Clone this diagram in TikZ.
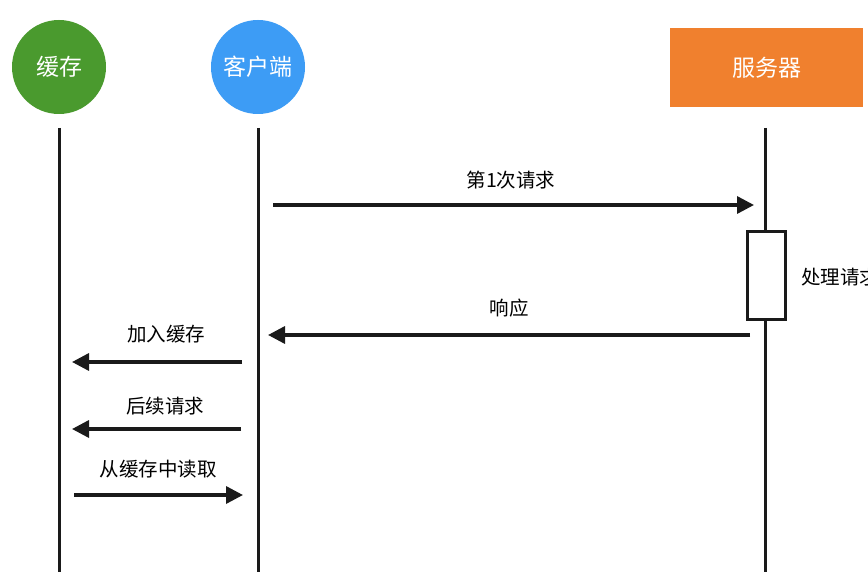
\documentclass[tikz,border=0pt]{standalone}
\usepackage{fontspec}
\newfontfamily\cjk{Noto Sans CJK SC}
\usetikzlibrary{arrows.meta}
\definecolor{cachegreen}{HTML}{4A9A2E}
\definecolor{clientblue}{HTML}{3D9CF5}
\definecolor{serverorange}{HTML}{F0802E}
\definecolor{lineblack}{HTML}{1A1A1A}
\begin{document}
\begin{tikzpicture}[x=1pt,y=-1pt,
  actor/.style={circle,minimum size=94pt,inner sep=0pt,text=white,font=\cjk\fontsize{23}{27}\selectfont},
  life/.style={draw=lineblack,line width=3pt},
  msg/.style={draw=lineblack,line width=3.4pt,-{Triangle[length=17pt,width=17pt]}},
  actbox/.style={draw=lineblack,line width=3pt,fill=white,minimum width=38pt,minimum height=87pt,inner sep=0pt},
  lbl/.style={font=\cjk\fontsize{19.5}{23}\selectfont,text=black,inner sep=0pt}]
\useasboundingbox (0,0) rectangle (868,588);
\fill[white] (0,0) rectangle (868,588);
% actors
\node[actor,fill=cachegreen] (cache) at (59,67) {缓存};
\node[actor,fill=clientblue] (client) at (258,67) {客户端};
\node[fill=serverorange,minimum width=193pt,minimum height=79pt,inner sep=0pt,text=white,font=\cjk\fontsize{23}{27}\selectfont] (server) at (766.5,67.5) {服务器};
% lifeline coordinates
\coordinate (c0) at (59,128); \coordinate (c1) at (59,572);
\coordinate (k0) at (258,128); \coordinate (k1) at (258,572);
\coordinate (s0) at (765,128); \coordinate (s1) at (765,572);
% activation
\node[actbox] (act) at (766.5,275.5) {};
\draw[life] (c0) -- (c1);
\draw[life] (k0) -- (k1);
\draw[life] (s0) -- (s1);
\node[actbox] at (act) {};
\node[lbl,anchor=west] (proc) at (801,277) {处理请求};
% message coordinates
\coordinate (m1a) at (273,205); \coordinate (m1b) at (754,205);
\coordinate (m2a) at (750,335); \coordinate (m2b) at (268,335);
\coordinate (m3a) at (242,362); \coordinate (m3b) at (72,362);
\coordinate (m4a) at (241,429); \coordinate (m4b) at (72,429);
\coordinate (m5a) at (74,495); \coordinate (m5b) at (243,495);
\draw[msg] (m1a) -- (m1b);
\draw[msg] (m2a) -- (m2b);
\draw[msg] (m3a) -- (m3b);
\draw[msg] (m4a) -- (m4b);
\draw[msg] (m5a) -- (m5b);
\node[lbl] (l1) at (511,180) {第1次请求};
\node[lbl] (l2) at (509,308) {响应};
\node[lbl] (l3) at (166,334) {加入缓存};
\node[lbl] (l4) at (165,406) {后续请求};
\node[lbl] (l5) at (158,469) {从缓存中读取};
\end{tikzpicture}
\end{document}
